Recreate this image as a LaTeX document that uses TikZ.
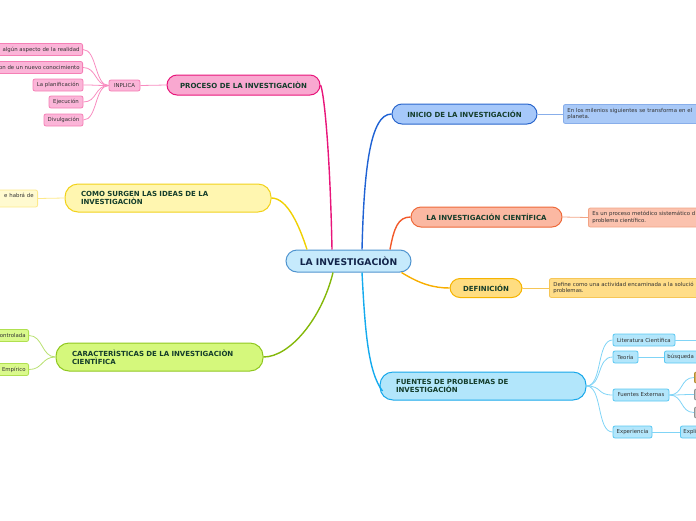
\documentclass[tikz,border=0pt]{standalone}
\usepackage{fontspec}
\setmainfont{DejaVu Sans}
\definecolor{branchtxt}{HTML}{143D2B}
\definecolor{centtxt}{HTML}{12244A}
\definecolor{smalltxt}{HTML}{333333}
\definecolor{cenfill}{HTML}{C6EAFC}\definecolor{cendraw}{HTML}{4F94CF}
\definecolor{pinkfill}{HTML}{F9A8D0}\definecolor{pinkdraw}{HTML}{E8157A}
\definecolor{pinksfill}{HTML}{FBB5D8}\definecolor{pinksdraw}{HTML}{F57FB5}\definecolor{pinkline}{HTML}{F88CC0}
\definecolor{yelfill}{HTML}{FFF6B0}\definecolor{yeldraw}{HTML}{F2D21B}\definecolor{yelline}{HTML}{F0D000}
\definecolor{yelsfill}{HTML}{FFFAD0}\definecolor{yelsdraw}{HTML}{FDE98A}
\definecolor{grnfill}{HTML}{D5F87C}\definecolor{grndraw}{HTML}{90C820}\definecolor{grnline}{HTML}{84B80A}
\definecolor{grnsfill}{HTML}{DAF98C}\definecolor{grnsdraw}{HTML}{B0E050}\definecolor{grnsline}{HTML}{B8E070}
\definecolor{blufill}{HTML}{A6C8FA}\definecolor{bludraw}{HTML}{2A66CC}\definecolor{bluline}{HTML}{1F62D4}
\definecolor{blusfill}{HTML}{A9C9F7}\definecolor{blusdraw}{HTML}{88AEEA}
\definecolor{salfill}{HTML}{FBB8A2}\definecolor{saldraw}{HTML}{EE6A3A}\definecolor{salline}{HTML}{F2592A}
\definecolor{salsfill}{HTML}{FBC2AE}\definecolor{salsdraw}{HTML}{F2A485}
\definecolor{orafill}{HTML}{FFDD80}\definecolor{oradraw}{HTML}{F6B400}\definecolor{oraline}{HTML}{F8AE00}
\definecolor{orasfill}{HTML}{FFDD88}\definecolor{orasdraw}{HTML}{F6C656}
\definecolor{cyafill}{HTML}{B2E6FB}\definecolor{cyadraw}{HTML}{18A8EA}\definecolor{cyaline}{HTML}{14AAEE}
\definecolor{cyasfill}{HTML}{B3E6FB}\definecolor{cyasdraw}{HTML}{5AC8F2}\definecolor{cyasline}{HTML}{80D4F6}
\definecolor{goldfill}{HTML}{D8B060}\definecolor{golddraw}{HTML}{B08A30}
\definecolor{grayfill}{HTML}{C8C8C8}\definecolor{graydraw}{HTML}{909090}
\tikzset{
  mainbox/.style={draw, rounded corners=10pt, line width=1pt, inner sep=0pt,
    font=\bfseries\fontsize{7}{8.4}\selectfont, text=branchtxt},
  smallbox/.style={draw, rounded corners=2pt, line width=0.8pt, inner ysep=0pt, inner xsep=3pt,
    minimum height=12pt, font=\fontsize{5.4}{6.4}\selectfont, text=smalltxt},
  leafbox/.style={draw, rounded corners=2pt, line width=0.8pt, inner ysep=1.5pt, inner xsep=4pt,
    font=\fontsize{5.4}{6.3}\selectfont, text=smalltxt, align=left, anchor=west},
  link/.style={line width=1.4pt},
  sublink/.style={line width=0.8pt},
}
\begin{document}
\begin{tikzpicture}[x=1pt,y=-1pt]
\useasboundingbox (0,0) rectangle (696,520);
% central
\node[draw=cendraw, fill=cenfill, rounded corners=11pt, line width=1pt, minimum width=125pt, minimum height=22pt,
  font=\bfseries\fontsize{9.2}{10.5}\selectfont, text=centtxt, inner sep=0pt] (central) at (348.5,261) {LA INVESTIGACIÒN};

% ---- PROCESO (pink)
\node[mainbox, draw=pinkdraw, fill=pinkfill, minimum width=153pt, minimum height=20pt] (proc) at (243.5,85) {PROCESO DE LA INVESTIGACIÒN};
\node[smallbox, draw=pinksdraw, fill=pinksfill, minimum width=31pt, minimum height=11pt] (inplica) at (124.5,85.5) {INPLICA};
\node[smallbox, draw=pinksdraw, fill=pinksfill, anchor=east, text width=96pt, align=right] (p1) at (83,49.5) {algún aspecto de la realidad};
\node[smallbox, draw=pinksdraw, fill=pinksfill, anchor=east, text width=96pt, align=right] (p2) at (83,67.5) {on de un nuevo conocimiento};
\node[smallbox, draw=pinksdraw, fill=pinksfill, minimum width=50pt] (p3) at (58,85) {La planificación};
\node[smallbox, draw=pinksdraw, fill=pinksfill, minimum width=34pt] (p4) at (66,102) {Ejecución};
\node[smallbox, draw=pinksdraw, fill=pinksfill, minimum width=39pt] (p5) at (63.5,120) {Divulgación};
\draw[link, pinkdraw] ([xshift=-16.5pt]central.north) .. controls (330,150) and (324,92) .. (proc.east);
\draw[sublink, pinkline] (proc.west) -- (inplica.east);
\foreach \t in {p1,p2,p3,p4,p5}
  \draw[sublink, pinkline] (inplica.west) .. controls +(-14,0) and +(14,0) .. (\t.east);

% ---- COMO SURGEN (yellow)
\node[mainbox, draw=yeldraw, fill=yelfill, rounded corners=13pt, minimum width=206pt, minimum height=28pt,
  inner xsep=16pt, text width=174pt, align=left] (como) at (168,198) {COMO SURGEN LAS IDEAS DE LA\\INVESTIGACIÒN};
\node[smallbox, draw=yelsdraw, fill=yelsfill, anchor=east, minimum height=17pt, text width=80pt, align=right, inner xsep=4pt] (c1) at (38,198.5) {e habrá de\hspace*{5pt}\\\mbox{}};
\draw[link, yelline] ([xshift=-41.5pt]central.north) .. controls (300,228) and (288,198) .. (como.east);
\draw[sublink, yelsdraw] (como.west) -- (c1.east);

% ---- CARACTERISTICAS (green)
\node[mainbox, draw=grndraw, fill=grnfill, rounded corners=13pt, minimum width=207pt, minimum height=28pt,
  inner xsep=16pt, text width=175pt, align=left] (char) at (159.5,357) {CARACTERÌSTICAS DE LA INVESTIGACIÒN\\CIENTÌFICA};
\node[smallbox, draw=grnsdraw, fill=grnsfill, anchor=east, text width=50pt, align=right] (ch1) at (29,335.5) {ontrolada};
\node[smallbox, draw=grnsdraw, fill=grnsfill, anchor=east, text width=26pt, align=right] (ch2) at (29,369.5) {Empírico};
\draw[link, grnline] ([xshift=-15.5pt]central.south) .. controls (322,318) and (290,357) .. (char.east);
\foreach \t in {ch1,ch2}
  \draw[sublink, grnsline] (char.west) .. controls +(-14,0) and +(14,0) .. (\t.east);

% ---- INICIO (blue)
\node[mainbox, draw=bludraw, fill=blufill, minimum width=145pt, minimum height=20pt] (inicio) at (464.5,114) {INICIO DE LA INVESTIGACIÓN};
\node[leafbox, draw=blusdraw, fill=blusfill, text width=160pt, minimum height=19pt] (i1) at (563,114) {En los milenios siguientes se transforma en el\\planeta.};
\draw[link, bluline] ([xshift=13.5pt]central.north) .. controls (364,170) and (370,114) .. (inicio.west);
\draw[sublink, blusdraw] (inicio.east) -- (i1.west);

% ---- LA INVESTIGACION CIENTIFICA (salmon)
\node[mainbox, draw=saldraw, fill=salfill, minimum width=151pt, minimum height=20pt] (lic) at (486.5,217) {LA INVESTIGACIÓN CIENTÍFICA};
\node[leafbox, draw=salsdraw, fill=salsfill, text width=160pt, minimum height=19pt] (l1) at (588,217.5) {Es un proceso metódico sistemático d\\problema científico.};
\draw[link, salline] ([xshift=41.5pt]central.north) .. controls (394,228) and (398,217) .. (lic.west);
\draw[sublink, salsdraw] (lic.east) -- (l1.west);

% ---- DEFINICION (orange)
\node[mainbox, draw=oradraw, fill=orafill, minimum width=72pt, minimum height=19pt] (def) at (486,288) {DEFINICIÓN};
\node[leafbox, draw=orasdraw, fill=orasfill, text width=160pt, minimum height=19pt] (d1) at (549,288) {Define como una actividad encaminada a la solució\\problemas.};
\draw[link, oraline] ([xshift=53pt]central.south) .. controls (420,284) and (434,288) .. (def.west);
\draw[sublink, orasdraw] (def.east) -- (d1.west);

% ---- FUENTES (cyan)
\node[mainbox, draw=cyadraw, fill=cyafill, rounded corners=13pt, minimum width=206pt, minimum height=28pt,
  inner xsep=16pt, text width=174pt, align=left] (fuentes) at (483,386) {FUENTES DE PROBLEMAS DE\\INVESTIGACIÓN};
\draw[link, cyaline] ([xshift=13.5pt]central.south) .. controls (365,330) and (368,372) .. ([xshift=3pt,yshift=-5pt]fuentes.west);
\node[smallbox, draw=cyasdraw, fill=cyasfill, minimum width=62pt] (f1) at (644,340) {Literatura Científica};
\node[smallbox, draw=cyasdraw, fill=cyasfill, minimum width=25pt] (f2) at (625.5,357) {Teoría};
\node[smallbox, draw=cyasdraw, fill=cyasfill, minimum width=56pt] (f3) at (641,395) {Fuentes Externas};
\node[smallbox, draw=cyasdraw, fill=cyasfill, minimum width=39pt] (f4) at (632.5,432) {Experiencia};
\node[smallbox, draw=cyasdraw, fill=cyasfill, anchor=west, text width=50pt, align=left] (f2a) at (664,357) {búsqueda};
\node[smallbox, draw=cyasdraw, fill=cyasfill, anchor=west, text width=50pt, align=left] (f4a) at (680,432) {Expli};
\node[draw=golddraw, fill=goldfill, rounded corners=2pt, line width=0.8pt, minimum width=20pt, minimum height=11pt, anchor=west] (f3a) at (694,377.5) {};
\node[draw=graydraw, fill=grayfill, rounded corners=2pt, line width=0.8pt, minimum width=20pt, minimum height=11pt, anchor=west] (f3b) at (694,394.5) {};
\node[draw=graydraw, fill=grayfill, rounded corners=2pt, line width=0.8pt, minimum width=20pt, minimum height=11pt, anchor=west] (f3c) at (694,412.5) {};
\coordinate (f1end) at (700,340);
\foreach \t in {f1,f2,f3,f4}
  \draw[sublink, cyasline] (fuentes.east) .. controls +(16,0) and +(-16,0) .. (\t.west);
\draw[sublink, cyasline] (f1.east) -- (f1end);
\draw[sublink, cyasline] (f2.east) -- (f2a.west);
\draw[sublink, cyasline] (f4.east) -- (f4a.west);
\foreach \t in {f3a,f3b,f3c}
  \draw[sublink, cyasline] (f3.east) .. controls +(14,0) and +(-14,0) .. (\t.west);
\end{tikzpicture}
\end{document}
